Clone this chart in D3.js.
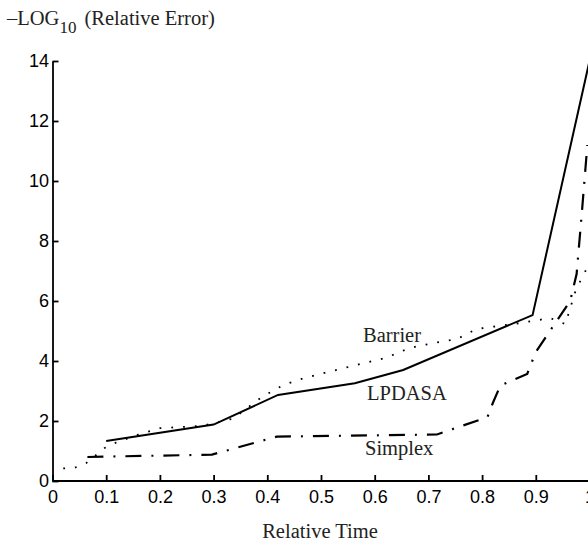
<!DOCTYPE html>
<meta charset="utf-8">
<style>
    body { margin: 0; background: #fff; }
    .axis path, .axis line { fill: none; stroke: #000; stroke-width: 1.8; }
    .axis text { font: 18px "Liberation Sans", Arial, sans-serif; fill: #000; }
    .lbl { font: 20.5px "Liberation Serif", "Times New Roman", serif; fill: #222; }
    .line { fill: none; stroke: #000; }
</style>
<svg id="chart" width="588" height="545"></svg>
<script src="https://cdn.jsdelivr.net/npm/d3@7"></script>
<script>

    // values: [relative time, -log10(relative error)]
    var lpdasa = [[0.1, 1.33], [0.3, 1.88], [0.42, 2.87], [0.563, 3.26], [0.653, 3.7],
        [0.894, 5.53], [1.0, 14.0]];
    var barrier = [[0.02, 0.42], [0.04, 0.43], [0.063, 0.6], [0.097, 1.1], [0.117, 1.27],
        [0.16, 1.55], [0.2, 1.76], [0.28, 1.84], [0.336, 2.08], [0.39, 2.8], [0.43, 3.2],
        [0.47, 3.44], [0.56, 3.84], [0.62, 4.1], [0.666, 4.44], [0.71, 4.6], [0.753, 4.73],
        [0.79, 5.07], [0.858, 5.23], [0.927, 5.43], [0.955, 5.23], [0.975, 6.4],
        [0.99, 6.9], [1.0, 7.3]];
    var simplex = [[0.065, 0.8], [0.297, 0.88], [0.418, 1.48], [0.716, 1.55], [0.81, 2.13],
        [0.82, 2.6], [0.834, 3.18], [0.884, 3.57], [0.9, 4.3], [0.93, 5.1], [0.964, 6.0],
        [0.976, 6.9], [0.986, 9.0], [0.996, 11.2]];

    var xTicks = [0, 0.1, 0.2, 0.3, 0.4, 0.5, 0.6, 0.7, 0.8, 0.9, 1];
    var yTicks = [0, 2, 4, 6, 8, 10, 12, 14];

    var svg = d3.select("#chart");

    var x = d3.scaleLinear().domain([0, 1]).range([52.5, 589.5]);
    var y = d3.scaleLinear().domain([0, 14]).range([481, 61]);

    var xAxis = d3.axisBottom(x).tickValues(xTicks).tickFormat(d3.format(""))
        .tickSizeInner(-6).tickSizeOuter(0).tickPadding(9);
    var yAxis = d3.axisLeft(y).tickValues(yTicks)
        .tickSizeInner(-6).tickSizeOuter(0).tickPadding(3.5);

    svg.append("g")
        .attr("class", "axis")
        .attr("transform", "translate(0," + y(0) + ")")
        .call(xAxis)
        .select(".domain").attr("d", "M" + x(0) + ",0H600");

    svg.append("g")
        .attr("class", "axis")
        .attr("transform", "translate(" + x(0) + ",0)")
        .call(yAxis);

    var line = d3.line()
        .x(function(d) { return x(d[0]); })
        .y(function(d) { return y(d[1]); });

    svg.append("path").datum(lpdasa)
        .attr("class", "line")
        .attr("stroke-width", 2)
        .attr("d", line);

    svg.append("path").datum(barrier)
        .attr("class", "line")
        .attr("stroke-width", 1.8)
        .attr("stroke-dasharray", "1.8 10")
        .attr("d", line);

    svg.append("path").datum(simplex)
        .attr("class", "line")
        .attr("stroke-width", 2.2)
        .attr("stroke-dasharray", "16 10 2 10")
        .attr("d", line);

    // curve labels
    svg.append("text").attr("class", "lbl").attr("x", 363).attr("y", 342).text("Barrier");
    svg.append("text").attr("class", "lbl").attr("x", 367).attr("y", 400).text("LPDASA");
    svg.append("text").attr("class", "lbl").attr("x", 365).attr("y", 455).text("Simplex");

    // axis titles
    var t = svg.append("text").attr("class", "lbl").attr("x", 7).attr("y", 25);
    t.append("tspan").text("\u2013LOG");
    t.append("tspan").attr("dy", 8).style("font-size", "17px").text("10");
    t.append("tspan").attr("dy", -8).attr("dx", 3).text(" (Relative Error)");

    svg.append("text").attr("class", "lbl")
        .attr("x", 320).attr("y", 538)
        .attr("text-anchor", "middle")
        .text("Relative Time");

</script>
